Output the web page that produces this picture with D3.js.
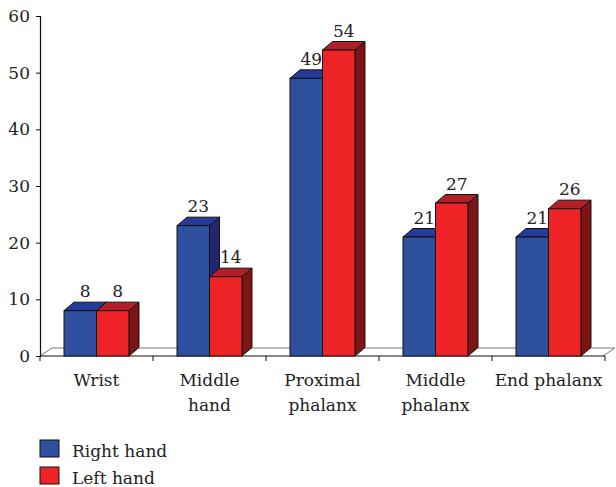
<!DOCTYPE html>
<html lang="en">
<head>
  <meta charset="UTF-8">
  <title>Right vs left hand</title>
  <script src="https://cdnjs.cloudflare.com/ajax/libs/d3/7.8.5/d3.min.js"></script>
  <style>
    body { margin: 0; background: #fff; }
    text { font-family: "DejaVu Serif", "Liberation Serif", serif; font-size: 17px; fill: #222; }
  </style>
</head>
<body>
  <div id="chart"></div>
  <script>
    const categories = [["Wrist"], ["Middle", "hand"], ["Proximal", "phalanx"], ["Middle", "phalanx"], ["End phalanx"]];
    const seriesNames = ["Right hand", "Left hand"];
    const rightHand = [8, 23, 49, 21, 21];
    const leftHand = [8, 14, 54, 27, 26];
    const yTicks = [0, 10, 20, 30, 40, 50, 60];

    const colors = [
      { front: "#2f4f9f", top: "#263a9a", side: "#22286e" },
      { front: "#ee2326", top: "#b31f26", side: "#7d1517" }
    ];

    const width = 616, height = 487;
    const plotLeft = 40, plotRight = 605, plotTop = 16, plotBottom = 356;
    const dx = 10, dy = -8.5;   // bar depth
    const fx = 12, fy = -8;     // floor depth

    const svg = d3.select("#chart").append("svg")
      .attr("width", width)
      .attr("height", height);

    const x = d3.scaleBand()
      .domain(d3.range(categories.length))
      .range([plotLeft, plotRight])
      .paddingInner(0.425)
      .paddingOuter(0.2125);

    const xs = d3.scaleBand()
      .domain(d3.range(seriesNames.length))
      .range([0, x.bandwidth()]);

    const y = d3.scaleLinear().domain([0, 60]).range([plotBottom, plotTop]);

    // floor
    svg.append("path")
      .attr("d", `M${plotLeft},${plotBottom} L${plotLeft + fx},${plotBottom + fy} L${plotRight + fx - 2},${plotBottom + fy} L${plotRight - 2},${plotBottom}`)
      .attr("fill", "none")
      .attr("stroke", "#777")
      .attr("stroke-width", 1);

    // x axis line and category ticks
    svg.append("line")
      .attr("x1", plotLeft).attr("x2", plotRight)
      .attr("y1", plotBottom).attr("y2", plotBottom)
      .attr("stroke", "#111").attr("stroke-width", 1.2);
    svg.selectAll(".xtick")
      .data(d3.range(categories.length + 1))
      .join("line")
      .attr("x1", i => plotLeft + i * x.step()).attr("x2", i => plotLeft + i * x.step())
      .attr("y1", plotBottom).attr("y2", plotBottom + 5)
      .attr("stroke", "#111");

    // y axis
    const yAxis = svg.append("g")
      .attr("transform", `translate(${plotLeft},0)`)
      .call(d3.axisLeft(y).tickValues(yTicks).tickSize(4).tickPadding(6));
    yAxis.select(".domain").attr("stroke", "#111").attr("stroke-width", 1.2);
    yAxis.selectAll("line").attr("stroke", "#111");
    yAxis.selectAll("text")
      .style("font-family", '"DejaVu Serif", "Liberation Serif", serif')
      .style("font-size", "17px")
      .attr("fill", "#222");

    // bars
    const bars = [];
    categories.forEach((c, i) => {
      [rightHand[i], leftHand[i]].forEach((v, s) => {
        bars.push({ i, s, v });
      });
    });

    const g = svg.append("g");
    bars.forEach(b => {
      const x0 = x(b.i) + xs(b.s);
      const x1 = x0 + xs.bandwidth();
      const y0 = y(0), y1 = y(b.v);
      const col = colors[b.s];
      const bar = g.append("g");
      // side
      bar.append("path")
        .attr("d", `M${x1},${y0} L${x1 + dx},${y0 + dy} L${x1 + dx},${y1 + dy} L${x1},${y1} Z`)
        .attr("fill", col.side).attr("stroke", "#111").attr("stroke-width", 1);
      // top
      bar.append("path")
        .attr("d", `M${x0},${y1} L${x0 + dx},${y1 + dy} L${x1 + dx},${y1 + dy} L${x1},${y1} Z`)
        .attr("fill", col.top).attr("stroke", "#111").attr("stroke-width", 1);
      // front
      bar.append("rect")
        .attr("x", x0).attr("y", y1)
        .attr("width", x1 - x0).attr("height", y0 - y1)
        .attr("fill", col.front).attr("stroke", "#111").attr("stroke-width", 1);
      // value label
      bar.append("text")
        .attr("x", (x0 + x1) / 2 + dx / 2)
        .attr("y", y1 + dy - 5)
        .attr("text-anchor", "middle")
        .text(b.v);
    });

    // category labels
    categories.forEach((lines, i) => {
      const t = svg.append("text")
        .attr("x", x(i) + x.bandwidth() / 2)
        .attr("y", 386)
        .attr("text-anchor", "middle");
      lines.forEach((ln, k) => {
        t.append("tspan")
          .attr("x", x(i) + x.bandwidth() / 2)
          .attr("dy", k === 0 ? 0 : 25)
          .text(ln);
      });
    });

    // legend
    const legend = svg.append("g").attr("transform", "translate(40,440)");
    seriesNames.forEach((name, s) => {
      const row = legend.append("g").attr("transform", `translate(0,${s * 27})`);
      row.append("rect")
        .attr("x", 0).attr("y", 0)
        .attr("width", 19).attr("height", 17)
        .attr("fill", colors[s].front)
        .attr("stroke", "#111");
      row.append("text")
        .attr("x", 32).attr("y", 16.5)
        .text(name);
    });
  </script>
</body>
</html>
